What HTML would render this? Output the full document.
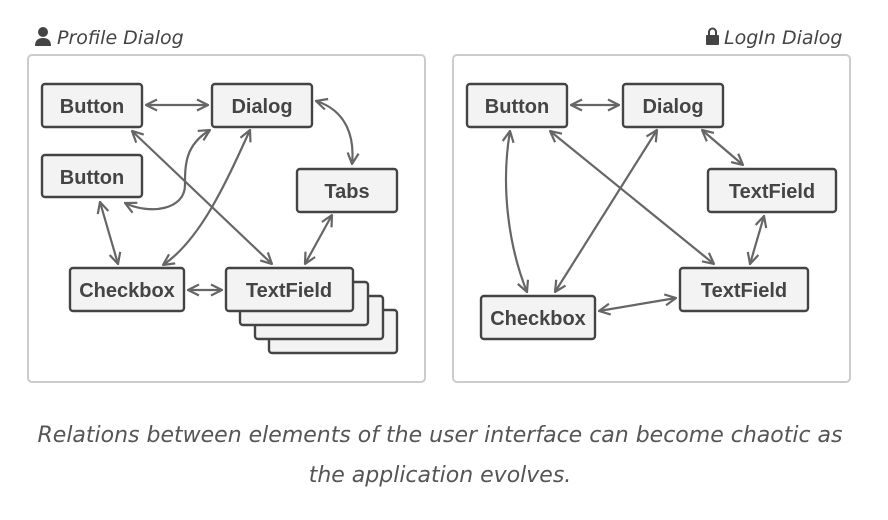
<!DOCTYPE html>
<html><head><style>
body{margin:0;background:#fff;width:888px;height:516px;overflow:hidden;font-family:"DejaVu Sans","Liberation Sans",sans-serif}
</style></head><body>
<svg width="888" height="516" xmlns="http://www.w3.org/2000/svg">
<defs>
<marker id="a" viewBox="0 0 14 14" refX="13" refY="7" markerWidth="14" markerHeight="14" markerUnits="userSpaceOnUse" orient="auto-start-reverse">
<path d="M2,1.5 L13,7 L2,12.5" fill="none" stroke="#666" stroke-width="2.2"/>
</marker>
</defs>
<g font-style="italic" font-size="19" fill="#444" font-family="DejaVu Sans, Liberation Sans, sans-serif">
<circle cx="43" cy="32" r="5" fill="#444"/><path d="M35,46 Q35,38 43,38 Q51,38 51,46 Z" fill="#444"/>
<text x="57" y="44">Profile Dialog</text>
<rect x="706" y="35" width="13" height="10" rx="1" fill="#444"/><path d="M709,35 V32 a3.5,3.5 0 0 1 7,0 V35" fill="none" stroke="#444" stroke-width="2"/>
<text x="724" y="44">LogIn Dialog</text>
</g>
<rect x="28" y="55" width="397" height="327" rx="4" fill="#fff" stroke="#ccc" stroke-width="2"/>
<rect x="453" y="55" width="397" height="327" rx="4" fill="#fff" stroke="#ccc" stroke-width="2"/>
<g fill="#f3f3f3" stroke="#444" stroke-width="2.4">
<rect x="269" y="310" width="128" height="43" rx="3"/>
<rect x="255" y="296" width="128" height="43" rx="3"/>
<rect x="240" y="282" width="128" height="43" rx="3"/>
<rect x="42" y="84" width="100" height="43" rx="3"/>
<rect x="212" y="84" width="100" height="43" rx="3"/>
<rect x="42" y="155" width="100" height="42" rx="3"/>
<rect x="297" y="169" width="100" height="43" rx="3"/>
<rect x="70" y="268" width="114" height="43" rx="3"/>
<rect x="226" y="268" width="127" height="43" rx="3"/>
<rect x="467" y="84" width="100" height="43" rx="3"/>
<rect x="623" y="84" width="100" height="43" rx="3"/>
<rect x="708" y="169" width="128" height="43" rx="3"/>
<rect x="680" y="268" width="128" height="43" rx="3"/>
<rect x="481" y="296" width="114" height="43" rx="3"/>
</g>
<g font-weight="bold" font-size="20" fill="#444" text-anchor="middle" font-family="Liberation Sans, sans-serif">
<text x="92" y="113">Button</text>
<text x="262" y="113">Dialog</text>
<text x="92" y="184">Button</text>
<text x="347" y="198">Tabs</text>
<text x="127" y="297">Checkbox</text>
<text x="289" y="297">TextField</text>
<text x="517" y="113">Button</text>
<text x="673" y="113">Dialog</text>
<text x="772" y="198">TextField</text>
<text x="744" y="297">TextField</text>
<text x="538" y="325">Checkbox</text>
</g>
<g fill="none" stroke="#666" stroke-width="2.2" marker-start="url(#a)" marker-end="url(#a)">
<path d="M146,105 L208,105"/>
<path d="M132,131 L272,264"/>
<path d="M210,130 C185,145 185,165 185,185 C185,210 150,215 125,203"/>
<path d="M250,130 C225,185 200,240 163,265"/>
<path d="M316,101 C345,110 355,135 352,164"/>
<path d="M100,202 L118,264"/>
<path d="M332,215 L305,264"/>
<path d="M188,290 L222,290"/>
<path d="M571,105 L619,105"/>
<path d="M510,131 C500,190 510,250 527,292"/>
<path d="M550,131 L714,264"/>
<path d="M657,130 L555,292"/>
<path d="M702,130 L743,165"/>
<path d="M764,216 L750,264"/>
<path d="M599,311 L676,298"/>
</g>
<g font-style="italic" font-size="22" fill="#555" text-anchor="middle" font-family="DejaVu Sans, Liberation Sans, sans-serif">
<text x="440" y="442">Relations between elements of the user interface can become chaotic as</text>
<text x="440" y="482">the application evolves.</text>
</g>
</svg>
</body></html>
